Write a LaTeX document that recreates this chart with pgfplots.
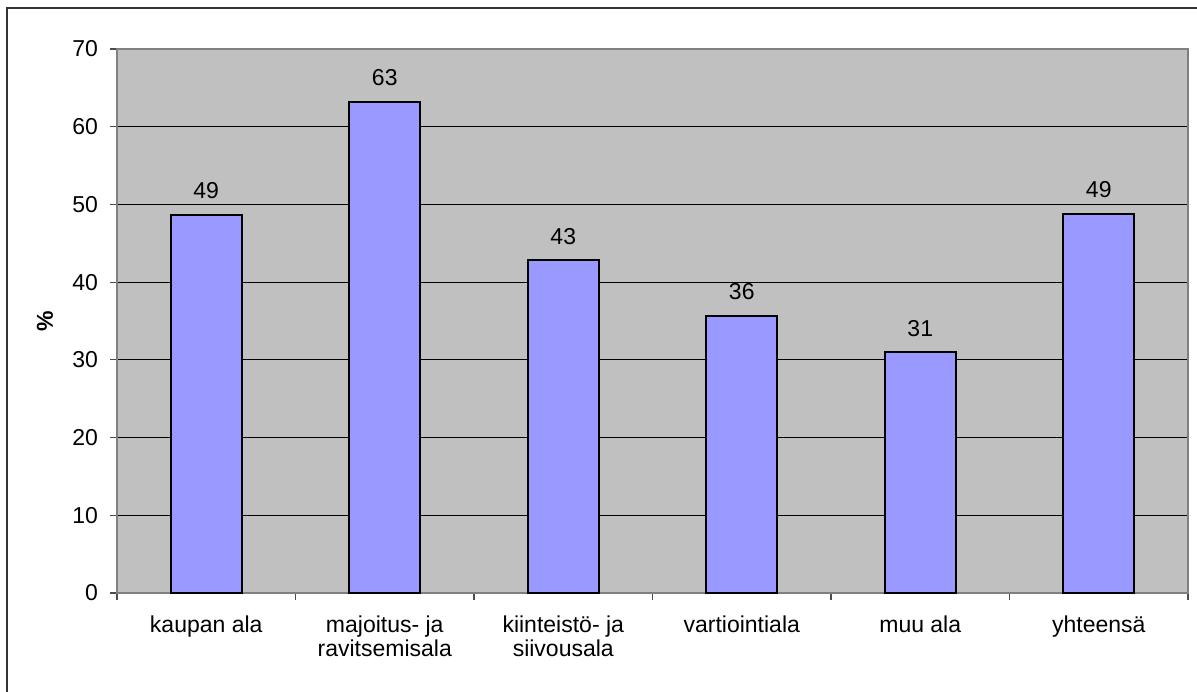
\documentclass[border=0pt]{standalone}
\usepackage{fontspec}
\setmainfont{Liberation Sans}
\usepackage{pgfplots}
\pgfplotsset{compat=1.18}
\definecolor{plotbg}{HTML}{C0C0C0}
\definecolor{barfill}{HTML}{9999FF}
\definecolor{bordergray}{HTML}{808080}
\begin{document}
\begin{tikzpicture}
\useasboundingbox (0,0) rectangle (598.5pt,345.5pt);
\draw[line width=1pt, black!80] (3.25pt,-10pt) -- (3.25pt,341.3pt) -- (610pt,341.3pt);
\begin{axis}[
  at={(58.5pt,49pt)}, anchor=south west,
  scale only axis, width=535.5pt, height=272pt,
  xmin=-0.5, xmax=5.5, ymin=0, ymax=70,
  ytick={0,10,...,70},
  xtick={0,1,2,3,4,5},
  xticklabels={kaupan ala,{majoitus- ja\\ravitsemisala},{kiinteistö- ja\\siivousala},vartiointiala,muu ala,yhteensä},
  minor xtick={-0.5,0.5,1.5,2.5,3.5,4.5,5.5},
  major x tick style={draw=none},
  tick align=outside,
  major tick length=3.5pt, minor tick length=3.5pt,
  tick style={black!70, line width=0.6pt},
  xtick pos=bottom, ytick pos=left,
  ymajorgrids,
  major grid style={black, line width=0.5pt},
  axis line style={bordergray, line width=0.9pt},
  axis background/.style={fill=plotbg},
  /pgf/number format/assume math mode=true,
  tick label style={font=\fontsize{11.5}{12}\selectfont},
  xticklabel style={align=center, yshift=-4.5pt},
  yticklabel style={xshift=-2.5pt},
  ylabel={\textbf{\%}},
  ylabel style={at={(axis description cs:-0.0672,0.5)}, anchor=center, font=\fontsize{11.5}{12}\selectfont},
  ybar, bar width=35.5pt,
  nodes near coords={\pgfmathprintnumber[fixed,precision=0]{\pgfplotspointmeta}},
  every node near coord/.append style={font=\fontsize{11.5}{12}\selectfont, black, anchor=south, yshift=4pt},
]
\addplot[fill=barfill, draw=black, line width=1pt] coordinates {
  (0,48.7) (1,63.2) (2,42.8) (3,35.7) (4,31.0) (5,48.8)
};
\end{axis}
\end{tikzpicture}
\end{document}
